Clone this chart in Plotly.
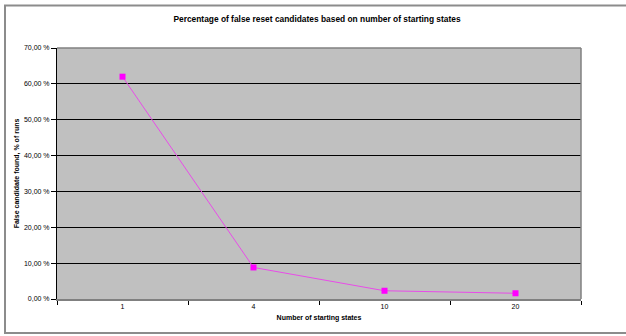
import plotly.graph_objects as go

# Number of starting states and share of runs with a false reset candidate (%)
starting_states = ["1", "4", "10", "20"]
false_candidate_pct = [62.0, 8.8, 2.3, 1.6]

y_tick_values = [0, 10, 20, 30, 40, 50, 60, 70]
y_tick_labels = ["0,00 %", "10,00 %", "20,00 %", "30,00 %", "40,00 %",
                 "50,00 %", "60,00 %", "70,00 %"]

W, H = 626, 336
L, R, T, B = 57, 45, 48, 37
pw, ph = W - L - R, H - T - B


def px_x(x):
    return (x - L) / pw


def px_y(y):
    return (H - B - y) / ph


FONT = "Liberation Sans, Arial, sans-serif"

fig = go.Figure()
fig.add_trace(go.Scatter(
    x=starting_states,
    y=false_candidate_pct,
    mode="lines+markers",
    line=dict(color="#E84CE8", width=1),
    marker=dict(symbol="square", size=6, color="#FF00FF"),
    hoverinfo="x+y",
))

fig.update_layout(
    width=W, height=H,
    margin=dict(l=L, r=R, t=T, b=B),
    paper_bgcolor="white",
    plot_bgcolor="#C0C0C0",
    showlegend=False,
    font=dict(family=FONT, size=7, color="black"),
    title=dict(
        text="<b>Percentage of false reset candidates based on number of starting states</b>",
        x=317 / W, xanchor="center",
        y=1 - 19 / H, yanchor="middle",
        font=dict(family=FONT, size=8.4, color="black"),
    ),
    xaxis=dict(
        type="category",
        range=[-0.5, len(starting_states) - 0.5],
        tickson="boundaries",
        ticks="outside", ticklen=4, tickcolor="black", tickwidth=1,
        showgrid=False,
        showline=True, linecolor="#808080", linewidth=2,
        tickfont=dict(family=FONT, size=7),
        title=dict(text="<b>Number of starting states</b>", standoff=6,
                   font=dict(family=FONT, size=7)),
        fixedrange=True,
    ),
    yaxis=dict(
        range=[0, 70],
        tickvals=y_tick_values,
        ticktext=y_tick_labels,
        ticks="outside", ticklen=5, tickcolor="black", tickwidth=1,
        showgrid=True, gridcolor="#000000", gridwidth=1,
        zeroline=False,
        showline=True, linecolor="#000000", linewidth=1,
        tickfont=dict(family=FONT, size=7),
        title=dict(text="<b>False candidate found, % of runs</b>", standoff=3,
                   font=dict(family=FONT, size=7)),
        fixedrange=True,
    ),
)

# Plot-area border (top and right in grey)
fig.add_shape(type="line", xref="paper", yref="paper",
              x0=0, x1=1, y0=1, y1=1, line=dict(color="#808080", width=1.5))
fig.add_shape(type="line", xref="paper", yref="paper",
              x0=1, x1=1, y0=0, y1=1, line=dict(color="#808080", width=1.5))

# Chart frame around the whole figure
fig.add_shape(type="rect", xref="paper", yref="paper",
              x0=px_x(5), x1=px_x(640), y0=px_y(333), y1=px_y(5.5),
              line=dict(color="#8C8C8C", width=2), fillcolor="rgba(0,0,0,0)",
              layer="below")

fig.write_html("out.html")
